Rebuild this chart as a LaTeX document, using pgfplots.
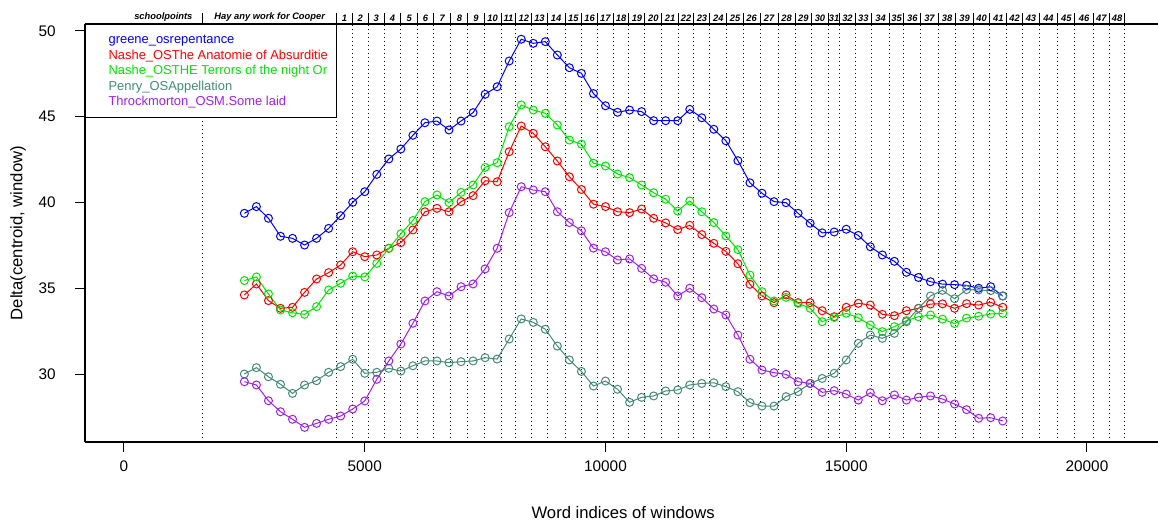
\documentclass[border=0pt]{standalone}
\usepackage{pgfplots}
\pgfplotsset{compat=1.18}
\usepackage{pgfplotstable}
\usepackage{fontspec}
\setmainfont{Liberation Sans}
\definecolor{sblue}{RGB}{0,0,255}
\definecolor{sred}{RGB}{255,0,0}
\definecolor{sgreen}{RGB}{0,230,0}
\definecolor{steal}{RGB}{69,139,116}
\definecolor{spurple}{RGB}{160,32,240}

\pgfplotstableread{
x b r g t p
2500 39.37 34.61 35.45 30.00 29.55
2750 39.76 35.25 35.66 30.37 29.36
3000 39.08 34.28 34.67 29.84 28.44
3250 38.03 33.83 33.73 29.40 27.80
3500 37.91 33.89 33.57 28.87 27.36
3750 37.52 34.76 33.48 29.36 26.89
4000 37.91 35.54 33.93 29.61 27.12
4250 38.49 35.91 34.90 30.10 27.36
4500 39.23 36.36 35.29 30.43 27.55
4750 40.01 37.13 35.71 30.86 27.96
5000 40.63 36.84 35.66 30.04 28.43
5250 41.64 36.94 36.45 30.10 29.69
5500 42.54 37.33 37.33 30.33 30.76
5750 43.12 37.66 38.18 30.17 31.75
6000 43.92 38.40 38.95 30.48 32.96
6250 44.65 39.46 40.05 30.76 34.26
6500 44.75 39.66 40.44 30.76 34.80
6750 44.23 39.46 39.99 30.66 34.55
7000 44.75 40.05 40.59 30.72 35.09
7250 45.24 40.40 41.02 30.76 35.25
7500 46.31 41.27 42.05 30.95 36.13
7750 46.75 41.21 42.32 30.87 37.33
8000 48.25 42.96 44.42 32.04 39.41
8250 49.52 44.46 45.69 33.21 40.92
8500 49.28 44.03 45.39 33.01 40.73
8750 49.38 43.25 45.20 32.61 40.63
9000 48.60 42.42 44.52 31.63 39.46
9250 47.86 41.50 43.64 30.82 38.83
9500 47.53 40.76 43.40 30.15 38.35
9750 46.35 39.90 42.29 29.30 37.34
10000 45.64 39.76 42.13 29.59 37.13
10250 45.26 39.46 41.66 29.11 36.65
10500 45.39 39.41 41.45 28.35 36.71
10750 45.30 39.62 41.02 28.64 36.16
11000 44.77 39.08 40.57 28.72 35.55
11250 44.77 38.81 40.19 29.01 35.35
11500 44.77 38.42 39.50 29.07 34.55
11750 45.43 38.67 40.09 29.36 35.00
12000 44.94 38.13 39.46 29.45 34.45
12250 44.27 37.62 38.83 29.49 33.79
12500 43.60 37.15 38.05 29.26 33.44
12750 42.44 36.43 37.25 28.97 32.27
13000 41.15 35.23 35.77 28.33 30.86
13250 40.54 34.55 34.80 28.13 30.23
13500 40.05 34.16 34.26 28.13 30.08
13750 39.99 34.61 34.47 28.68 29.98
14000 39.37 34.16 34.12 28.97 29.55
14250 38.79 34.16 33.83 29.45 29.45
14500 38.23 33.69 33.05 29.74 28.93
14750 38.28 33.34 33.30 30.04 29.03
15000 38.44 33.89 33.54 30.82 28.83
15250 38.08 34.12 33.28 31.79 28.48
15500 37.42 34.02 32.86 32.27 28.91
15750 36.94 33.48 32.47 32.08 28.44
16000 36.57 33.40 32.76 32.37 28.78
16250 35.93 33.69 33.11 33.05 28.48
16500 35.63 33.83 33.34 33.83 28.64
16750 35.38 34.08 33.44 34.55 28.72
17000 35.24 34.09 33.20 34.88 28.54
17250 35.21 33.83 32.94 34.39 28.25
17500 35.17 34.10 33.26 34.92 27.92
17750 35.00 34.02 33.37 34.90 27.42
18000 35.09 34.18 33.50 34.86 27.45
18250 34.55 33.89 33.54 34.55 27.26
}\datatable

\pgfplotsset{
  frame/.style={
    scale only axis, width=804.75pt, height=313.5pt,
    xmin=-810, xmax=21475, ymin=26.035, ymax=50.408,
  },
  ser/.style={color=#1, line width=0.75pt, mark=o, mark size=3pt, mark options={solid, line width=0.75pt}},
}

\begin{document}
\begin{tikzpicture}
% segment boundaries and names
\begin{axis}[frame,
  axis x line*=top, axis y line=none,
  xtick={1634,4417,4741,5074,5400,5747,6100,6424,6791,7138,7483,7830,8141,8467,8791,9159,9506,9830,10162,10488,10820,11167,11512,11838,12170,12517,12862,13209,13589,13936,14283,14627,14870,15182,15529,15894,16199,16546,16912,17279,17639,17985,18332,18664,19009,19391,19751,20131,20463,20789},
  xticklabels={},
  tick align=outside, major tick length=8.25pt,
  tick style={black, line width=0.75pt},
  axis line style={black, line width=0.9pt},
  xmajorgrids,
  grid style={black, line width=0.75pt, dash pattern=on 0.75pt off 2.25pt},
  extra x ticks={817,3026,4579,4908,5237,5574,5924,6262,6608,6965,7311,7657,7986,8304,8629,8975,9333,9668,9996,10325,10654,10994,11340,11675,12004,12344,12690,13036,13399,13763,14110,14455,14749,15026,15356,15712,16047,16373,16729,17096,17459,17812,18159,18498,18837,19200,19571,19941,20297,20626},
  extra x tick labels={schoolpoints,Hay any work for Cooper,1,2,3,4,5,6,7,8,9,10,11,12,13,14,15,16,17,18,19,20,21,22,23,24,25,26,27,28,29,30,31,32,33,34,35,36,37,38,39,40,41,42,43,44,45,46,47,48},
  extra x tick style={grid=none, major tick length=0pt,
    tick label style={font=\fontsize{7}{8}\selectfont\bfseries\itshape, yshift=-1.5pt}},
]
\addplot[draw=none] coordinates {(0,30)};
\end{axis}
% data
\begin{axis}[frame,
  axis x line*=box, axis y line*=left,
  xtick pos=lower, ytick pos=left,
  xtick={0,5000,10000,15000,20000},
  ytick={30,35,40,45,50},
  scaled x ticks=false, scaled y ticks=false,
  tick align=outside, major tick length=7.5pt,
  tick style={black, line width=0.75pt},
  axis line style={black, line width=0.9pt},
  /pgf/number format/assume math mode=true,
  /pgf/number format/set thousands separator={},
  ticklabel style={font=\fontsize{11.5}{13}\selectfont},
  xticklabel style={yshift=-3.3pt},
  yticklabel style={xshift=-11pt},
  xlabel={Word indices of windows},
  ylabel={Delta(centroid, window)},
  label style={font=\fontsize{12.5}{14}\selectfont},
  xlabel style={at={(axis description cs:0.5015,-0.1699)}, anchor=center},
  ylabel style={at={(axis description cs:-0.0624,0.5)}, anchor=center},
  legend image code/.code={\path[draw=none, fill=none] (0pt,0pt) -- (10.5pt,0pt);},
  legend cell align=left,
  legend style={at={(0,1)}, anchor=north west, draw=black, line width=0.9pt, fill=white,
    font=\fontsize{9.7}{11.6}\selectfont, inner xsep=6.75pt, inner ysep=5.9pt,
    nodes={inner sep=0pt, text height=8.6pt, text depth=3pt}},
]
\addplot[ser=sblue] table[x=x, y=b] {\datatable};
\addlegendentry{\textcolor{sblue}{greene\_osrepentance}}
\addplot[ser=sred] table[x=x, y=r] {\datatable};
\addlegendentry{\textcolor{sred}{Nashe\_OSThe Anatomie of Absurditie}}
\addplot[ser=sgreen] table[x=x, y=g] {\datatable};
\addlegendentry{\textcolor{sgreen}{Nashe\_OSTHE Terrors of the night Or}}
\addplot[ser=steal] table[x=x, y=t] {\datatable};
\addlegendentry{\textcolor{steal}{Penry\_OSAppellation}}
\addplot[ser=spurple] table[x=x, y=p] {\datatable};
\addlegendentry{\textcolor{spurple}{Throckmorton\_OSM.Some laid}}
\end{axis}
\pgfresetboundingbox
\path[use as bounding box] ([shift={(-63.75pt,-62.25pt)}]current axis.south west) rectangle ([shift={(0pt,18pt)}]current axis.north east);
\end{tikzpicture}
\end{document}
